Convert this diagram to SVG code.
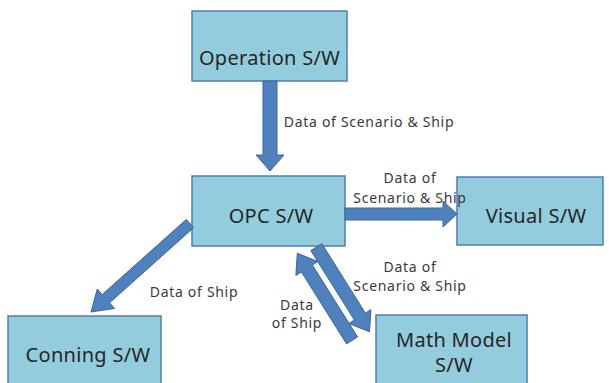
<svg xmlns="http://www.w3.org/2000/svg" width="609" height="383" viewBox="0 0 609 383">
<style>
.box{fill:#93CDDD;stroke:#4F7DB5;stroke-width:1.5}
.arr{fill:#4F81BD;stroke:#3C6699;stroke-width:1;stroke-linejoin:miter}
.t{font-family:"Noto Sans","Open Sans",sans-serif;font-size:20px;fill:#262626;text-anchor:middle;letter-spacing:0.3px}
.l{font-family:"Noto Sans","Open Sans",sans-serif;font-size:14px;fill:#3a3a3a;text-anchor:middle;letter-spacing:0.7px}
</style>
<rect width="609" height="383" fill="#fff"/>
<g id="operation"><rect class="box" x="192" y="11" width="155" height="70"/><text class="t" x="269.5" y="65">Operation S/W</text></g>
<g id="opc"><rect class="box" x="192" y="176" width="153" height="70"/><text class="t" x="271" y="223">OPC S/W</text></g>
<g id="visual"><rect class="box" x="457" y="177" width="146" height="68"/><text class="t" x="536" y="223">Visual S/W</text></g>
<g id="conning"><rect class="box" x="8" y="316" width="153" height="80"/><text class="t" x="88" y="362">Conning S/W</text></g>
<g id="mathmodel"><rect class="box" x="376" y="315" width="151" height="80"/><text class="t" x="454" y="347">Math Model</text><text class="t" x="454" y="372">S/W</text></g>
<g id="connectors">
<polygon class="arr" points="263,81 277,81 277,155 284,155 270,171 256,155 263,155"/>
<polygon class="arr" points="345,208 443,208 443,201 457,214 443,227 443,220 345,220"/>
<polygon class="arr" points="186.3,219.4 193.7,227.6 109.6,302.8 114.6,308.4 91,312 97.3,289 102.2,294.6"/>
<polygon class="arr" points="310.8,250.6 321.8,243.6 365.4,313.1 370.9,309.6 369.5,331.8 348.9,323.5 354.4,320"/>
<polygon class="arr" points="297.3,253.2 317.9,261.5 312.4,265 357.6,336.9 346.6,343.9 301.4,271.9 295.9,275.4"/>
<text class="l" x="369" y="127">Data of Scenario &amp; Ship</text>
<text class="l" x="410" y="183">Data of</text>
<text class="l" x="410" y="203">Scenario &amp; Ship</text>
<text class="l" x="194" y="297">Data of Ship</text>
<text class="l" x="410" y="272">Data of</text>
<text class="l" x="410" y="291">Scenario &amp; Ship</text>
<text class="l" x="297" y="310">Data</text>
<text class="l" x="297" y="328">of Ship</text>
</g>
</svg>
